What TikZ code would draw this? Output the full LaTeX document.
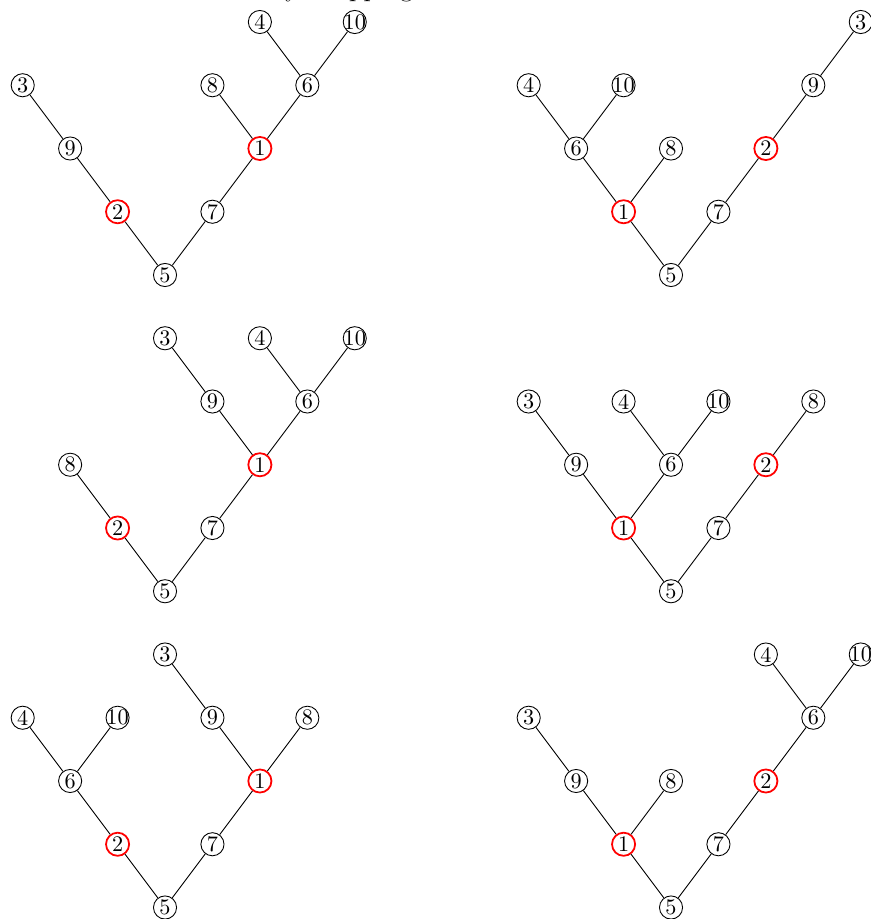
\documentclass[tikz,border=0pt]{standalone}
\usepackage{tikz}
\usetikzlibrary{positioning}
\tikzset{
  treenode/.style={draw,circle,inner sep=0pt,minimum size=10.4pt,font=\normalsize,
    execute at begin node={\hbox to 0pt\bgroup\hss},execute at end node={\hss\egroup}},
  pivotnode/.style={treenode,draw=red,thick},
  treeedge/.style={draw=black,line width=0.4pt}
}
\begin{document}
\begin{tikzpicture}
\useasboundingbox (-2.609,-10.182) rectangle (11.146,4.348);
\node[font=\large,anchor=base] (title) at (2.80,4.40) {by swapping};

% top left
\begin{scope}[x=0.75cm,y=1cm]
\node[treenode] (a5) at (0,0) {5};
\node[pivotnode] (a2) at (-1,1) {2};
\node[treenode] (a9) at (-2,2) {9};
\node[treenode] (a3) at (-3,3) {3};
\node[treenode] (a7) at (1,1) {7};
\node[pivotnode] (a1) at (2,2) {1};
\node[treenode] (a8) at (1,3) {8};
\node[treenode] (a6) at (3,3) {6};
\node[treenode] (a4) at (2,4) {4};
\node[treenode] (a10) at (4,4) {10};
\end{scope}
\draw[treeedge] (a5) -- (a2) -- (a9) -- (a3);
\draw[treeedge] (a5) -- (a7) -- (a1) -- (a8);
\draw[treeedge] (a1) -- (a6) -- (a4);
\draw[treeedge] (a6) -- (a10);

% top right
\begin{scope}[xshift=8cm,x=0.75cm,y=1cm]
\node[treenode] (b5) at (0,0) {5};
\node[pivotnode] (b1) at (-1,1) {1};
\node[treenode] (b6) at (-2,2) {6};
\node[treenode] (b4) at (-3,3) {4};
\node[treenode] (b10) at (-1,3) {10};
\node[treenode] (b8) at (0,2) {8};
\node[treenode] (b7) at (1,1) {7};
\node[pivotnode] (b2) at (2,2) {2};
\node[treenode] (b9) at (3,3) {9};
\node[treenode] (b3) at (4,4) {3};
\end{scope}
\draw[treeedge] (b5) -- (b1) -- (b6) -- (b4);
\draw[treeedge] (b6) -- (b10);
\draw[treeedge] (b1) -- (b8);
\draw[treeedge] (b5) -- (b7) -- (b2) -- (b9) -- (b3);

% middle left
\begin{scope}[yshift=-5cm,x=0.75cm,y=1cm]
\node[treenode] (c5) at (0,0) {5};
\node[pivotnode] (c2) at (-1,1) {2};
\node[treenode] (c8) at (-2,2) {8};
\node[treenode] (c7) at (1,1) {7};
\node[pivotnode] (c1) at (2,2) {1};
\node[treenode] (c9) at (1,3) {9};
\node[treenode] (c3) at (0,4) {3};
\node[treenode] (c6) at (3,3) {6};
\node[treenode] (c4) at (2,4) {4};
\node[treenode] (c10) at (4,4) {10};
\end{scope}
\draw[treeedge] (c5) -- (c2) -- (c8);
\draw[treeedge] (c5) -- (c7) -- (c1) -- (c9) -- (c3);
\draw[treeedge] (c1) -- (c6) -- (c4);
\draw[treeedge] (c6) -- (c10);

% middle right
\begin{scope}[xshift=8cm,yshift=-5cm,x=0.75cm,y=1cm]
\node[treenode] (d5) at (0,0) {5};
\node[pivotnode] (d1) at (-1,1) {1};
\node[treenode] (d9) at (-2,2) {9};
\node[treenode] (d3) at (-3,3) {3};
\node[treenode] (d6) at (0,2) {6};
\node[treenode] (d4) at (-1,3) {4};
\node[treenode] (d10) at (1,3) {10};
\node[treenode] (d7) at (1,1) {7};
\node[pivotnode] (d2) at (2,2) {2};
\node[treenode] (d8) at (3,3) {8};
\end{scope}
\draw[treeedge] (d5) -- (d1) -- (d9) -- (d3);
\draw[treeedge] (d1) -- (d6) -- (d4);
\draw[treeedge] (d6) -- (d10);
\draw[treeedge] (d5) -- (d7) -- (d2) -- (d8);

% bottom left
\begin{scope}[yshift=-10cm,x=0.75cm,y=1cm]
\node[treenode] (e5) at (0,0) {5};
\node[pivotnode] (e2) at (-1,1) {2};
\node[treenode] (e6) at (-2,2) {6};
\node[treenode] (e4) at (-3,3) {4};
\node[treenode] (e10) at (-1,3) {10};
\node[treenode] (e7) at (1,1) {7};
\node[pivotnode] (e1) at (2,2) {1};
\node[treenode] (e9) at (1,3) {9};
\node[treenode] (e3) at (0,4) {3};
\node[treenode] (e8) at (3,3) {8};
\end{scope}
\draw[treeedge] (e5) -- (e2) -- (e6) -- (e4);
\draw[treeedge] (e6) -- (e10);
\draw[treeedge] (e5) -- (e7) -- (e1) -- (e9) -- (e3);
\draw[treeedge] (e1) -- (e8);

% bottom right
\begin{scope}[xshift=8cm,yshift=-10cm,x=0.75cm,y=1cm]
\node[treenode] (f5) at (0,0) {5};
\node[pivotnode] (f1) at (-1,1) {1};
\node[treenode] (f9) at (-2,2) {9};
\node[treenode] (f3) at (-3,3) {3};
\node[treenode] (f8) at (0,2) {8};
\node[treenode] (f7) at (1,1) {7};
\node[pivotnode] (f2) at (2,2) {2};
\node[treenode] (f6) at (3,3) {6};
\node[treenode] (f4) at (2,4) {4};
\node[treenode] (f10) at (4,4) {10};
\end{scope}
\draw[treeedge] (f5) -- (f1) -- (f9) -- (f3);
\draw[treeedge] (f1) -- (f8);
\draw[treeedge] (f5) -- (f7) -- (f2) -- (f6) -- (f4);
\draw[treeedge] (f6) -- (f10);
\end{tikzpicture}
\end{document}
